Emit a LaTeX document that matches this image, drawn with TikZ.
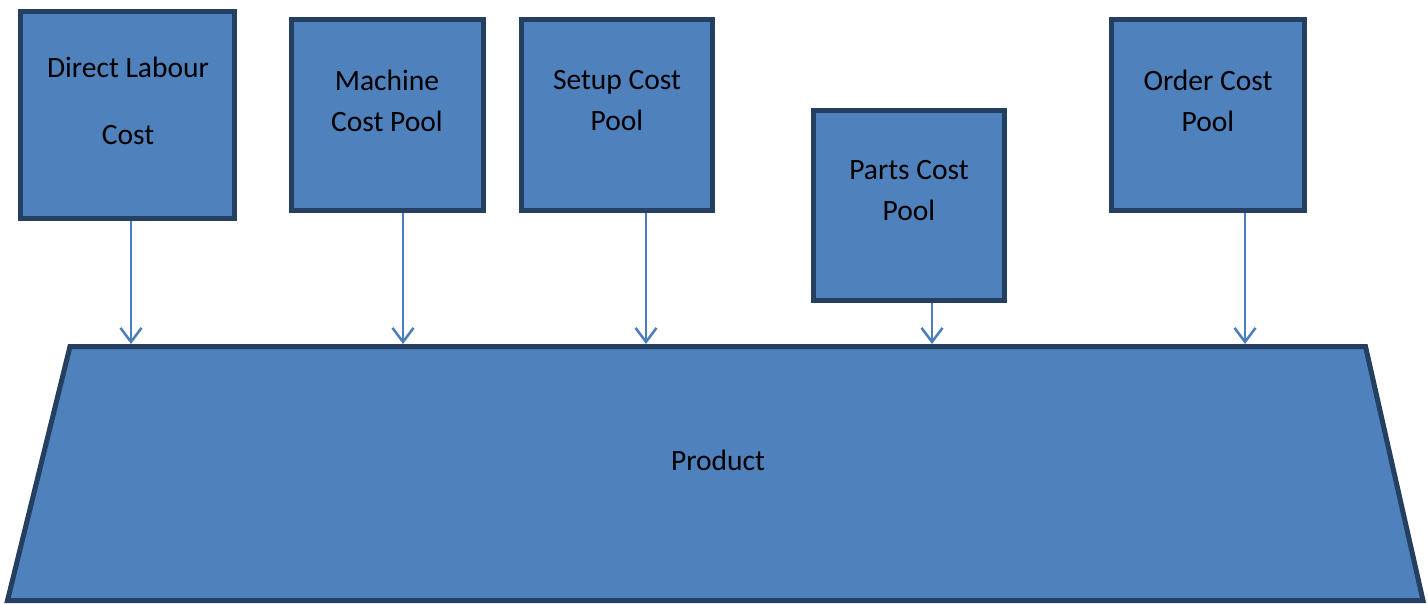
\documentclass[tikz,border=0pt]{standalone}
\usepackage{fontspec}
\setmainfont{Carlito}
\usetikzlibrary{arrows.meta}
\definecolor{boxfill}{HTML}{4F81BD}
\definecolor{boxline}{HTML}{243F60}
\definecolor{arrowblue}{HTML}{4A7EBB}
\tikzset{
  pool/.style={draw=boxline, fill=boxfill, line width=5pt, inner sep=0pt, outer sep=0pt},
  label/.style={align=center, font=\fontsize{29.5}{41}\selectfont, text=black},
  feed/.style={draw=arrowblue, line width=2.5pt, -{Straight Barb[length=14pt,width=21pt,line width=2.5pt]}}
}
\begin{document}
\begin{tikzpicture}[x=1pt, y=-1pt]
\useasboundingbox (0,0) rectangle (1428,603);

% product trapezium
\coordinate (ptl) at (70,346.5);
\coordinate (ptr) at (1365.5,346.5);
\coordinate (pbr) at (1423,600.5);
\coordinate (pbl) at (7.5,600.5);
\coordinate (ptop) at (0,344);
\draw[draw=boxline, fill=boxfill, line width=5pt, line join=miter] (ptl) -- (ptr) -- (pbr) -- (pbl) -- cycle;
\node[label] (product) at (718,460) {Product};

% cost pools
\node[pool, minimum width=214pt, minimum height=207pt] (dl) at (127.5,115) {};
\node[pool, minimum width=192pt, minimum height=191pt] (mc) at (387.5,115) {};
\node[pool, minimum width=191pt, minimum height=191pt] (su) at (617,115) {};
\node[pool, minimum width=191pt, minimum height=190pt] (pa) at (909,205.5) {};
\node[pool, minimum width=193pt, minimum height=191pt] (oc) at (1208,115) {};

\node[label, font=\fontsize{29.5}{67}\selectfont] (dl-t) at (128,100.5) {Direct Labour\\Cost};
\node[label] (mc-t) at (387,100.5) {Machine\\Cost Pool};
\node[label] (su-t) at (617,100.5) {Setup Cost\\Pool};
\node[label] (pa-t) at (909,190.5) {Parts Cost\\Pool};
\node[label] (oc-t) at (1208,100.5) {Order Cost\\Pool};

% allocation arrows
\draw[feed] ([xshift=3.5pt,yshift=-2.5pt]dl.south) -- ([xshift=3.5pt]dl.south |- ptop);
\draw[feed] ([xshift=15.5pt,yshift=-2.5pt]mc.south) -- ([xshift=15.5pt]mc.south |- ptop);
\draw[feed] ([xshift=29pt,yshift=-2.5pt]su.south) -- ([xshift=29pt]su.south |- ptop);
\draw[feed] ([xshift=23pt,yshift=-2.5pt]pa.south) -- ([xshift=23pt]pa.south |- ptop);
\draw[feed] ([xshift=37pt,yshift=-2.5pt]oc.south) -- ([xshift=37pt]oc.south |- ptop);
\end{tikzpicture}
\end{document}
